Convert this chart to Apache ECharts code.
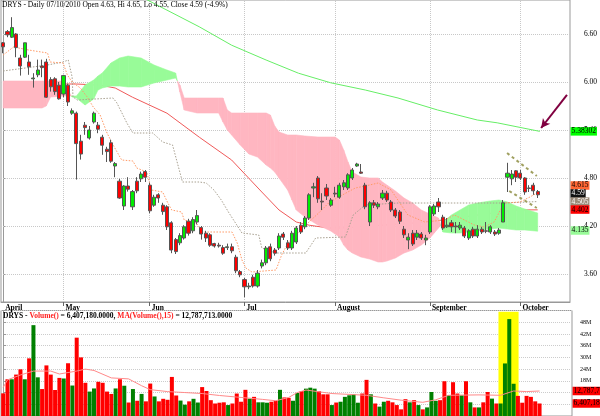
<!DOCTYPE html>
<html><head><meta charset="utf-8">
<script src="https://cdn.jsdelivr.net/npm/echarts@6/dist/echarts.min.js"></script>
<style>html,body{margin:0;padding:0;background:#fff}#c{width:600px;height:416px}</style>
</head><body><div id="c"></div>
<script>
// ---------- DATA ----------
const monthDays = [
  [4, [13,14,15,16,19,20,21,22,23,26,27,28,29,30]],
  [5, [3,4,5,6,7,10,11,12,13,14,17,18,19,20,21,24,25,26,27,28]],
  [6, [1,2,3,4,7,8,9,10,11,14,15,16,17,18,21,22,23,24,25,28,29,30]],
  [7, [1,2,6,7,8,9,12,13,14,15,16,19,20,21,22,23,26,27,28,29,30]],
  [8, [2,3,4,5,6,9,10,11,12,13,16,17,18,19,20,23,24,25,26,27,30,31]],
  [9, [1,2,3,7,8,9,10,13,14,15,16,17,20,21,22,23,24,27,28,29,30]],
  [10,[1,4,5,6,7,8,11,12,13,14,15,18]]
];
const monthNames = {4:'April',5:'May',6:'Jun',7:'Jul',8:'August',9:'September',10:'October'};

const opens = [6.49,6.63,6.56,6.60,6.30,6.31,6.25,6.04,6.09,6.20, 6.25,6.03,6.04,5.96,5.85,5.96,5.61,5.61,5.26,5.46,
 5.30,5.50,5.46,5.31,5.16,5.24,4.95,4.76,4.45,4.70, 4.44,4.76,4.79,4.88,4.71,4.46,4.59,4.46,4.44,4.24,
 4.03,3.99,4.05,4.26,4.14,4.25,4.18,4.11,4.09,3.98, 3.96,3.93,3.93,3.94,3.81,3.63,3.53,3.44,3.56,3.45,
 3.70,3.74,3.94,3.90,3.925,4.10,3.99,3.925,4.00,4.21, 4.19,4.30,4.675,4.80,4.51,4.675,4.46,4.61,4.56,4.69,
 4.675,4.80,4.95,4.875,4.71,4.25,4.49,4.44,4.55,4.61, 4.50,4.40,4.375,4.16,4.025,4.11,4.06,4.10,4.025,4.125,
 4.35,4.50,4.31,4.19,4.24,4.20,4.175,4.175,4.05,4.16, 4.075,4.16,4.14,4.125,4.125,4.11,4.25,4.81,4.79,4.89,
 4.86,4.80,4.675,4.71,4.63];
const closes = [6.44,6.59,6.68,6.43,6.20,6.49,6.19,6.05,6.15,6.18, 5.81,5.94,5.88,5.79,6.08,5.75,5.64,5.23,5.10,5.43,
 5.40,5.61,5.41,5.21,5.13,5.01,4.98,4.55,4.70,4.66, 4.63,4.64,4.85,4.81,4.39,4.56,4.55,4.38,4.19,3.90,
 3.88,4.08,4.19,4.11,4.28,4.33,4.10,4.05,3.96,3.95, 3.95,3.86,3.94,3.89,3.64,3.59,3.44,3.45,3.45,3.61,
 3.74,3.925,3.79,3.86,4.075,4.06,3.925,4.11,4.175,4.125, 4.30,4.59,4.69,4.54,4.50,4.575,4.525,4.60,4.71,4.74,
 4.84,4.90,4.975,4.86,4.44,4.49,4.46,4.475,4.61,4.525, 4.40,4.325,4.26,4.09,4.06,3.975,4.11,4.05,4.05,4.44,
 4.45,4.44,4.175,4.21,4.19,4.19,4.21,4.075,4.14,4.075, 4.16,4.125,4.135,4.19,4.10,4.15,4.49,4.86,4.85,4.81,
 4.80,4.625,4.67,4.64,4.59];
const lows = [6.36,6.56,6.55,6.31,6.08,6.30,6.09,5.93,6.06,6.06, 5.80,5.88,5.84,5.78,5.81,5.70,5.59,4.78,5.03,5.34,
 5.28,5.48,5.36,5.09,5.00,4.99,4.81,4.54,4.40,4.63, 4.40,4.61,4.75,4.75,4.36,4.44,4.49,4.34,4.15,3.86,
 3.85,3.96,4.03,4.08,4.11,4.22,4.03,4.00,3.94,3.93, 3.93,3.84,3.90,3.86,3.61,3.56,3.31,3.41,3.43,3.43,
 3.67,3.71,3.76,3.83,3.90,4.025,3.90,3.90,3.975,4.10, 4.16,4.275,4.56,4.49,4.40,4.525,4.44,4.56,4.54,4.65,
 4.65,4.775,4.94,4.85,4.41,4.20,4.425,4.41,4.525,4.50, 4.375,4.30,4.225,4.05,3.91,3.95,4.025,4.025,3.96,4.10,
 4.325,4.375,4.15,4.175,4.125,4.11,4.15,4.05,4.025,4.05, 4.05,4.10,4.11,4.10,4.075,4.09,4.25,4.625,4.71,4.75,
 4.775,4.59,4.625,4.59,4.55];
const highs = [6.50,6.65,6.81,6.61,6.34,6.49,6.34,6.11,6.28,6.28, 6.29,6.06,6.06,6.00,6.09,5.98,5.67,5.63,5.34,5.50,
 5.45,5.63,5.50,5.34,5.19,5.28,5.00,4.79,4.71,4.81, 4.65,4.81,4.88,4.90,4.74,4.59,4.61,4.49,4.46,4.26,
 4.05,4.11,4.21,4.29,4.31,4.40,4.20,4.14,4.11,3.99, 3.99,3.96,3.98,3.98,3.84,3.65,3.55,3.49,3.59,3.65,
 3.78,3.95,3.98,3.925,4.11,4.125,4.025,4.14,4.20,4.25, 4.325,4.61,4.74,4.825,4.61,4.725,4.55,4.69,4.74,4.775,
 4.86,4.925,4.99,4.975,4.74,4.51,4.525,4.50,4.65,4.64, 4.525,4.425,4.40,4.20,4.11,4.15,4.15,4.125,4.09,4.46,
 4.475,4.55,4.34,4.30,4.275,4.25,4.25,4.20,4.16,4.19, 4.21,4.19,4.25,4.21,4.15,4.175,4.525,4.99,4.90,4.90,
 4.90,4.81,4.71,4.74,4.65];
// volume, millions
const volumes = [11.6,18.8,18.8,21.2,23.9,18.8,29.5,46.5,19.8,13.8, 25.9,21.2,13.3,19.5,19.2,27.0,15.6,40.1,30.0,17.0,
 12.5,14.1,17.5,17.0,12.5,11.3,14.1,18.8,15.5,6.9, 13.8,7.8,11.3,7.5,16.6,10.0,7.5,8.8,8.3,20.0,
 10.5,7.9,5.8,7.5,8.8,6.9, 14.8,12.8,8.1,6.4,6.8,7.0,5.6,6.4,11.5,7.3,13.4,8.9,9.8,7.0,7.0,6.8,7.3,7.8,13.4,9.5,9.3,7.8,11.8,
 12.8,14.0,14.5,14.0,12.7,11.1,11.1,5.6,6.9,7.3, 9.8,10.6,11.1,6.8,11.5,18.5,11.1,6.4,4.8,7.3,
 7.8,7.0,5.6,3.4,8.6,7.0,8.1,5.6,3.4,4.4, 12.3,7.8,8.1,17.8,10.6,17.3,11.5,10.6,17.8,7.0,
 4.4,4.4,7.0,12.3,8.9,6.4,6.4,26.9,49.6,16.5, 10.3,6.8,10.3,9.8,7.5,6.407];
// MA(Volume,15) read at points [day index, millions]
const volMA = [[0,14.6],[1,18.5],[4,21],[7,23],[11,23],[13,21.5],[17,23],[19,24],[21,23.3],[25,19.5],[29,19],[32,15.5],
 [34,13.5],[38,12.5],[42,12],[46,11.5],[50,10.5],[55,9.5],[60,8.5],[63,7.8],[66,9.5],[68,12],[70,13.3],[76,11.5],
 [84,10.6],[88,9.3],[92,8.1],[97,7.0],[100,8.3],[103,10.6],[110,10.8],[115,10.6],[118,12.8],[121,12.5],[124,12.79]];
// price moving averages read at points [day index, price]
const ma50 = [[14,5.975],[17,5.975],[22.5,5.96],[26,5.925],[30,5.81],[38,5.61],[45.5,5.31],[53,5.025],[60,4.625],[64,4.40],
 [68,4.25],[71,4.21],[75.5,4.175],[78.5,4.175],[98.5,4.25],[118.5,4.40],[124,4.402]];
const ma200 = [[31.7,7.075],[36.5,6.94],[45.5,6.69],[53,6.46],[61,6.275],[68.5,6.11],[76,5.99],[84,5.90],[91.6,5.80],
 [100.8,5.65],[110,5.525],[114.6,5.49],[119.2,5.44],[124.5,5.383]];
const tenkan = [[0,6.3375],[2.4,6.4375],[5.9,6.40],[10.3,6.3625],[10.9,6.25],[13.9,6.2375],[14.9,6.0875],[16,6.0],[17.9,5.925],
 [19.5,5.8125],[20.9,5.6875],[22.5,5.5875],[24.1,5.3625],[25.5,5.2125],[27.5,5.025],[30.1,5.0125],[31,4.925],[33.3,4.875],
 [34.4,4.65],[37,4.625],[38.1,4.5],[39.1,4.40],[41.4,4.375],[42,4.275],[44.8,4.2375],[46.2,4.125],[53.1,4.125],[54.3,3.9875],
 [55.4,3.775],[56.3,3.675],[57.7,3.625],[63.3,3.65],[64.6,3.8375],[66.2,4.0],[68.5,4.125],[70.2,4.2125],[73.2,4.3625],
 [75.5,4.4875],[77.8,4.5625],[81.7,4.675],[84,4.70],[87,4.7375],[90,4.65],[93.9,4.3375],[97.8,4.25],[102.4,4.275],
 [104.7,4.3375],[109.3,4.2125],[111.6,4.1875],[113.9,4.25],[116.2,4.4875],[119.9,4.50],[122.2,4.5625],[123.9,4.615]];
const kijun = [[0,6.1375],[10.3,6.2125],[13.9,6.25],[15.1,6.275],[16,6.0625],[16.2,5.8125],[17.2,5.775],[25.5,5.80],[26.4,5.7375],
 [28.7,5.4875],[30.1,5.3625],[34.7,5.3625],[37,5.25],[39.3,5.2125],[41.6,4.75],[45.5,4.75],[47.1,4.7375],[48.9,4.65],
 [50.6,4.525],[52.4,4.3625],[55.4,4.1125],[59.3,4.0875],[60,3.925],[63.2,3.8625],[70.2,3.8625],[72.5,4.05],[79.4,4.0625],
 [81.2,4.3375],[84,4.4625],[91.6,4.4875],[116.2,4.4875],[123.8,4.505]];
// Ichimoku cloud: leading span A and span B read at day indexes
const cloudIdx = [0,9,10,11,14,15,16,17,19,21,22,23,25,27,29,32,35,38,40,41,42,45,50,51,52,53,55,57,59,61,62,63,64,66,67,68,
 70,73,76,77,78,79,80,81,83,85,87,88,89,91,93,95,97,99,100,101,102,104,106,108,110,113,115,117,119,121,124];
const spanA = [5.675,5.675,5.70,5.8125,5.825,5.825,5.825,5.825,5.9625,6.025,6.075,6.1125,6.2375,6.30,6.325,6.30,6.2125,6.15,6.1125,
 5.875,5.65,5.6125,5.6125,5.50,5.40,5.3375,5.2125,5.10,5.0625,4.9625,4.925,4.875,4.80,4.65,4.525,4.40,
 4.3125,4.2125,4.1375,4.10,4.0625,3.9625,3.90,3.8625,3.8125,3.7875,3.75,3.75,3.7625,3.80,3.8625,3.90,3.9625,4.05,4.1125,4.175,
 4.25,4.3375,4.40,4.4625,4.4875,4.5125,4.525,4.50,4.45,4.4125,4.3625];
const spanB = [6.0125,6.0125,6.0125,6.0125,6.0125,5.90,5.8125,5.80,5.7125,5.7875,5.90,5.925,5.95,5.95,5.9375,5.9375,5.9875,6.025,6.05,
 5.9625,5.80,5.80,5.80,5.80,5.65,5.6125,5.6125,5.6125,5.6125,5.6125,5.5875,5.45,5.375,5.3375,5.3375,5.3375,
 5.325,5.3125,5.3125,5.3125,5.275,5.15,5.0,4.875,4.8125,4.80,4.80,4.75,4.7125,4.6375,4.55,4.4875,4.40,4.35,4.325,4.30,
 4.125,4.1125,4.1125,4.125,4.1375,4.1625,4.175,4.1625,4.15,4.15,4.135];
// hand-drawn channel and arrow [day index, price]
const channelUpper = [[116.9,5.1125],[123.8,4.825]];
const channelLower = [[117.4,4.6375],[123.8,4.425]];
const arrowLine = [[130.8,5.84],[124.8,5.425]];
const highlightRange = [114.5, 119.15];
const priceTicks = [3.6,4.2,4.8,5.4,6.0,6.6];
const priceTags = [5.38302,4.615,4.59,4.505,4.402,4.135];
const priceTagText = ['5.38302','4.615','4.59','4.505','4.402','4.135'];
const volTags = [12.787713, 6.40718];
const volTagText = ['12,787,713','6,407,180'];
const titleText = 'DRYS - Daily 07/10/2010 Open 4.63, Hi 4.65, Lo 4.55, Close 4.59 (-4.9%)';

// ---------- BUILD ----------
const categories = [];
monthDays.forEach(([m, days]) => days.forEach(d => categories.push('2010-' + String(m).padStart(2,'0') + '-' + String(d).padStart(2,'0'))));
const monthOf = i => +categories[i].slice(5,7);
const isStart = i => i === 0 || monthOf(i) !== monthOf(i-1);
const monthStarts = categories.map((c,i)=>i).filter(i => i>0 && isStart(i));

const candles = opens.map((o,i)=>[o, closes[i], lows[i], highs[i]]);
const volBars = volumes.map((v,i)=>({value:v, itemStyle:{color: closes[i] >= opens[i] ? '#008000' : '#ff0000'}}));
const cloudSegs = [];
for (let k=0;k<cloudIdx.length-1;k++) cloudSegs.push([cloudIdx[k],spanA[k],spanB[k],cloudIdx[k+1],spanA[k+1],spanB[k+1]]);

const GREEN = '#98fb98', PINK = '#ffb6c1';
function renderCloud(params, api){
  const x0=api.value(0), a0=api.value(1), b0=api.value(2), x1=api.value(3), a1=api.value(4), b1=api.value(5);
  const pa0=api.coord([x0,a0]), pb0=api.coord([x0,b0]), pa1=api.coord([x1,a1]), pb1=api.coord([x1,b1]);
  const d0=a0-b0, d1=a1-b1;
  const col = d => d >= 0 ? GREEN : PINK;
  const poly = (pts, c) => ({type:'polygon', shape:{points:pts}, style:{fill:c, stroke:c, lineWidth:0.6}});
  if (d0*d1 < 0) {
    const t = d0/(d0-d1);
    const pc = [pa0[0]+t*(pa1[0]-pa0[0]), pa0[1]+t*(pa1[1]-pa0[1])];
    return {type:'group', children:[poly([pa0,pc,pb0], col(d0)), poly([pc,pa1,pb1], col(d1))]};
  }
  return poly([pa0,pa1,pb1,pb0], col(d0+d1));
}

const FONT = 'Liberation Serif';
const tagStyles = [['#00ff00','#000'],['#ff6633','#000'],['#111111','#fff'],['#9a8a78','#fff'],['#ff0000','#000'],['#98fb98','#000']];
const tagShift = [0,-7.3,-1.3,0,-0.3,-0.7];   // stacking so tags do not overlap
const XMAX = 131.4;
const tagLabel = (bg, fg, dy) => ({show:true, position:'right', distance:1, offset:[0,dy], backgroundColor:bg, color:fg, fontSize:7.5,
  fontFamily:FONT, padding:[1,1,0,1], lineHeight:7.5});

const chart = echarts.init(document.getElementById('c'), null, {renderer:'canvas', devicePixelRatio:1});
chart.setOption({
  animation:false,
  backgroundColor:'#fff',
  textStyle:{fontFamily:FONT},
  title:[
    {text:titleText, left:2, top:1, padding:0, textStyle:{fontSize:7.5, fontWeight:'normal', color:'#000', fontFamily:FONT}},
    {text:'{k|DRYS - }{r|Volume()}{k| = 6,407,180.0000, }{r|MA(Volume(),15)}{k| = 12,787,713.0000}', left:3, top:312, padding:0,
     textStyle:{fontSize:7.5, rich:{k:{color:'#000', fontSize:7.5, fontFamily:FONT}, r:{color:'#ff2020', fontSize:7.5, fontFamily:FONT}}}}
  ],
  grid:[
    {left:1, right:28, top:0, height:302, show:true, borderColor:'#999', borderWidth:1},
    {left:1, right:28, top:310.5, height:107.3, show:true, borderColor:'#999', borderWidth:1}
  ],
  xAxis:[
    {type:'category', gridIndex:0, data:categories, boundaryGap:true,
     axisLine:{show:true, lineStyle:{color:'#999'}},
     axisTick:{show:true, alignWithLabel:true, interval:(i)=> i>0 && isStart(i), length:4, lineStyle:{color:'#666'}},
     axisLabel:{interval:(i)=>isStart(i), formatter:(v)=>monthNames[+v.slice(5,7)], align:'left', margin:2, padding:[0,0,0,2],
       fontSize:7.5, color:'#000', fontFamily:FONT, fontWeight:'bold'},
     splitLine:{show:false}},
    {type:'value', gridIndex:0, min:-0.5, max:131.5, show:false},
    {type:'category', gridIndex:1, data:categories, boundaryGap:true, show:false},
    {type:'value', gridIndex:1, min:-0.5, max:131.5, show:false}
  ],
  yAxis:[
    {type:'value', gridIndex:0, position:'right', min:3.25, max:7.025,
     axisLine:{show:true, lineStyle:{color:'#999'}},
     axisTick:{show:true, length:3, customValues:priceTicks, lineStyle:{color:'#999'}},
     axisLabel:{customValues:priceTicks, formatter:(v)=>Number(v).toFixed(2), align:'right', margin:27, fontSize:7.5, color:'#000', fontFamily:FONT},
     splitLine:{show:false}},
    {type:'value', gridIndex:1, position:'right', min:0, max:54, interval:6,
     axisLine:{show:true, lineStyle:{color:'#999'}},
     axisTick:{show:true, length:3, lineStyle:{color:'#999'}},
     axisLabel:{formatter:(v)=> (v>=18 && v<=48) ? v+'M' : '', margin:8, fontSize:6, color:'#000', fontFamily:FONT},
     splitLine:{show:true, lineStyle:{color:'#cccccc', type:'dotted'}}}
  ],
  series:[
    {name:'ma50', type:'line', xAxisIndex:1, yAxisIndex:0, data:ma50, symbol:'none', z:2, silent:true,
     lineStyle:{color:'#f05a5a', width:1},
     markLine:{silent:true, z:1, symbol:['none','none'], label:{show:false}, lineStyle:{color:'#c8c8c8', type:'dotted', width:1},
       data:[...priceTicks.map(v=>({yAxis:v})), ...monthStarts.map(i=>({xAxis:i}))]}},
    {name:'cloud', type:'custom', xAxisIndex:1, yAxisIndex:0, z:3, silent:true, renderItem:renderCloud, data:cloudSegs,
     encode:{x:[0,3], y:[1,2,4,5]}},
    {name:'ma200', type:'line', xAxisIndex:1, yAxisIndex:0, data:ma200, symbol:'none', z:4, silent:true,
     lineStyle:{color:'#66ee66', width:1},
     markLine:{silent:true, z:6, symbol:['none','arrow'], symbolSize:[7,9], label:{show:false},
       lineStyle:{color:'#800040', width:2, type:'solid'},
       data:[[{coord:arrowLine[0]},{coord:arrowLine[1]}]]},
     markPoint:{silent:true, z:7, symbol:'circle', symbolSize:0,
       data: priceTags.map((v,k)=>({coord:[XMAX, v], value:priceTagText[k],
         label:Object.assign(tagLabel(tagStyles[k][0], tagStyles[k][1], tagShift[k]), {formatter:priceTagText[k]})}))}},
    {name:'kijun', type:'line', xAxisIndex:1, yAxisIndex:0, data:kijun, symbol:'none', z:4, silent:true,
     lineStyle:{color:'#a8a090', width:1, type:[1.5,1.5]}},
    {name:'tenkan', type:'line', xAxisIndex:1, yAxisIndex:0, data:tenkan, symbol:'none', z:4, silent:true,
     lineStyle:{color:'#ff9a66', width:1, type:[1.5,1.5]}},
    {name:'price', type:'candlestick', xAxisIndex:0, yAxisIndex:0, data:candles, z:5, barWidth:3.6, silent:true,
     itemStyle:{color:'#00ee00', color0:'#ff0000', borderColor:'#555', borderColor0:'#555', borderWidth:1}},
    {name:'chanU', type:'line', xAxisIndex:1, yAxisIndex:0, data:channelUpper, symbol:'none', z:6, silent:true,
     lineStyle:{color:'#a0a060', width:2, type:[3,3]}},
    {name:'chanL', type:'line', xAxisIndex:1, yAxisIndex:0, data:channelLower, symbol:'none', z:6, silent:true,
     lineStyle:{color:'#a0a060', width:2, type:[3,3]}},
    {name:'volume', type:'bar', xAxisIndex:2, yAxisIndex:1, data:volBars, barWidth:4, z:2, silent:true},
    {name:'volMA', type:'line', xAxisIndex:3, yAxisIndex:1, data:volMA, symbol:'none', z:3, silent:true,
     lineStyle:{color:'#ff8a8a', width:1},
     markArea:{silent:true, z:1, itemStyle:{color:'#ffff00'}, data:[[{xAxis:highlightRange[0], yAxis:0},{xAxis:highlightRange[1], yAxis:53.3}]]},
     markPoint:{silent:true, z:7, symbol:'circle', symbolSize:0,
       data: volTags.map((v,k)=>({coord:[XMAX, v], value:volTagText[k], label:Object.assign(tagLabel('#ff0000','#000',0), {formatter:volTagText[k]})}))}}
  ]
});
</script></body></html>
